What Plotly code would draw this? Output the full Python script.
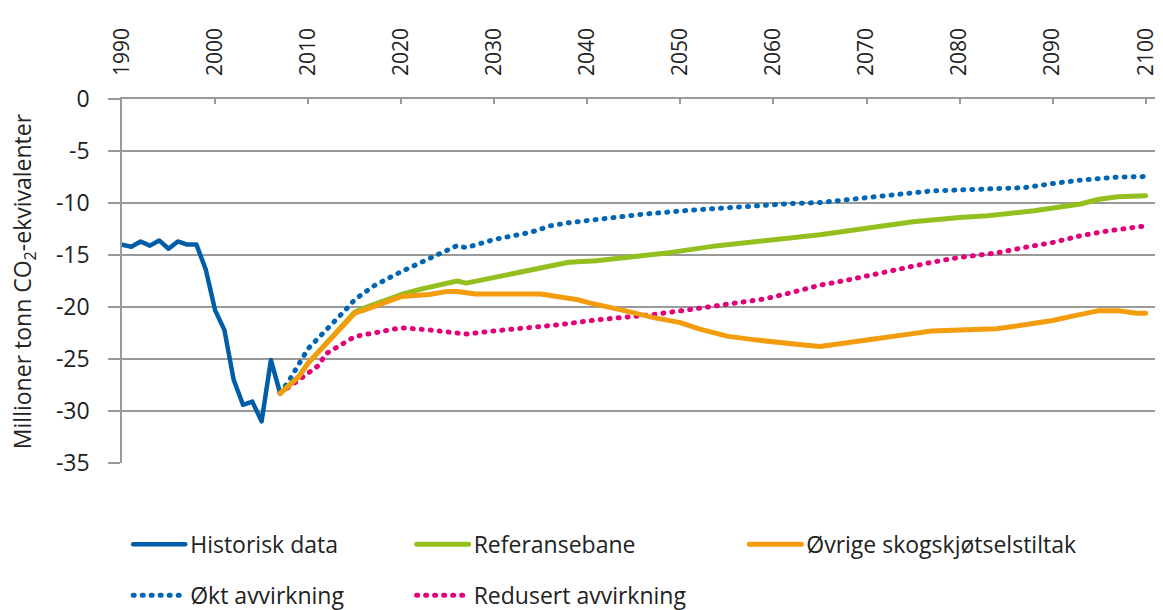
import plotly.graph_objects as go

# ---- data ----
hist_years = list(range(1990, 2008))
hist_vals = [-14.0, -14.2, -13.7, -14.1, -13.6, -14.4, -13.7, -14.0, -14.0, -16.4,
             -20.3, -22.2, -27.0, -29.4, -29.1, -31.0, -25.1, -28.3]

okt_years = [2007, 2008, 2010, 2012, 2014, 2015, 2017, 2020, 2022, 2025, 2026, 2027,
             2030, 2034, 2036, 2038, 2041, 2046, 2051, 2056, 2062, 2065, 2067, 2072,
             2077, 2083, 2087, 2090, 2093, 2097, 2100]
okt_vals = [-28.3, -27.0, -24.0, -22.2, -20.3, -19.3, -18.0, -16.6, -15.8, -14.5, -14.1, -14.3,
            -13.5, -12.8, -12.2, -11.9, -11.55, -11.07, -10.7, -10.37, -10.05, -9.96, -9.8, -9.3,
            -8.84, -8.68, -8.52, -8.13, -7.8, -7.5, -7.46]

ref_years = [2007, 2009, 2010, 2011, 2013, 2015, 2016, 2018, 2020, 2022, 2024, 2026, 2027,
             2030, 2034, 2036, 2038, 2041, 2045, 2049, 2054, 2060, 2065, 2070, 2075, 2080,
             2083, 2088, 2093, 2095, 2097, 2100]
ref_vals = [-28.3, -26.7, -25.4, -24.45, -22.5, -20.5, -20.1, -19.4, -18.8, -18.3, -17.9, -17.5, -17.7,
            -17.15, -16.4, -16.0, -15.7, -15.55, -15.13, -14.75, -14.1, -13.54, -13.06, -12.42, -11.8, -11.4,
            -11.23, -10.75, -10.1, -9.64, -9.4, -9.3]

ovr_years = [2007, 2009, 2010, 2011, 2013, 2015, 2016, 2018, 2020, 2023, 2025, 2026, 2028,
             2035, 2037, 2039, 2040, 2042, 2044, 2047, 2050, 2052, 2055, 2058, 2061, 2063,
             2065, 2068, 2071, 2074, 2077, 2080, 2084, 2087, 2090, 2092, 2095, 2097, 2099, 2100]
ovr_vals = [-28.3, -26.7, -25.4, -24.45, -22.5, -20.6, -20.3, -19.6, -19.0, -18.8, -18.5, -18.5, -18.75,
            -18.75, -19.0, -19.3, -19.55, -20.0, -20.35, -21.0, -21.5, -22.1, -22.8, -23.16, -23.38, -23.64,
            -23.8, -23.47, -23.06, -22.68, -22.3, -22.2, -22.1, -21.7, -21.3, -20.9, -20.35, -20.35, -20.6, -20.6]

red_years = [2007, 2009, 2011, 2012, 2015, 2017, 2020, 2023, 2025, 2027, 2030, 2034, 2037,
             2041, 2044, 2047, 2051, 2055, 2059, 2062, 2065, 2068, 2071, 2074, 2077, 2080,
             2084, 2087, 2090, 2093, 2096, 2100]
red_vals = [-28.3, -27.0, -25.7, -24.45, -22.85, -22.5, -22.0, -22.2, -22.4, -22.6, -22.3, -22.0, -21.7,
            -21.24, -21.0, -20.73, -20.25, -19.7, -19.23, -18.6, -17.9, -17.4, -16.8, -16.25, -15.7, -15.23,
            -14.8, -14.27, -13.8, -13.15, -12.67, -12.2]

x_ticks = list(range(1990, 2101, 10))
y_ticks = [0, -5, -10, -15, -20, -25, -30, -35]
y_ticktext = ["0", "-5", "-10", "-15", "-20", "-25", "-30", "-35"]

FONT = "Open Sans"
TXT = "#222222"
GRID = "#9a9a9a"

fig = go.Figure()


def add(x, y, name, color, dash, legend, rank, width):
    fig.add_trace(go.Scatter(
        x=x, y=y, mode="lines", name=name,
        line=dict(color=color, width=width, dash=dash),
        legend=legend, legendgroup=name, legendrank=rank,
        hoverinfo="x+y+name",
    ))


add(hist_years, hist_vals, "Historisk data", "#005ea8", "solid", "legend", 1, 4.5)
add(okt_years, okt_vals, "Økt avvirkning", "#0066b3", "1px,8px", "legend", 2, 5)
add(red_years, red_vals, "Redusert avvirkning", "#e2007a", "1px,8px", "legend2", 2, 5)
add(ref_years, ref_vals, "Referansebane", "#93c01f", "solid", "legend2", 1, 5)
add(ovr_years, ovr_vals, "Øvrige skogskjøtselstiltak", "#f39c0d", "solid", "legend3", 1, 5)

leg_common = dict(
    orientation="v", xanchor="left", yanchor="top", y=-0.1645,
    itemwidth=52, tracegroupgap=18, bgcolor="rgba(0,0,0,0)",
    font=dict(family=FONT, size=23, color=TXT),
)

fig.update_layout(
    width=1163, height=610,
    margin=dict(l=122, r=8, t=99, b=147, autoexpand=False),
    paper_bgcolor="white", plot_bgcolor="white",
    font=dict(family=FONT, size=22, color=TXT),
    showlegend=True,
    legend=dict(x=0.006, **leg_common),
    legend2=dict(x=0.2804, **leg_common),
    legend3=dict(x=0.6024, **leg_common),
    xaxis=dict(
        range=[1990, 2101], side="top", tickvals=x_ticks, tickangle=-90,
        ticks="inside", ticklen=5, tickcolor=GRID, tickwidth=1.5,
        showline=True, linecolor=GRID, linewidth=1.5,
        showgrid=False, zeroline=False, automargin=False,
        tickfont=dict(family=FONT, size=21, color=TXT),
        ticklabelstandoff=17,
    ),
    yaxis=dict(
        range=[-35, 0], tickvals=y_ticks, ticktext=y_ticktext,
        ticks="outside", ticklen=12, tickcolor=GRID, tickwidth=1.5,
        showline=True, linecolor=GRID, linewidth=1.5,
        showgrid=True, gridcolor=GRID, gridwidth=1.5,
        zeroline=False, automargin=False,
        tickfont=dict(family=FONT, size=23, color=TXT),
        ticklabelstandoff=14,
    ),
    annotations=[dict(
        text="Millioner tonn CO<sub>2</sub>-ekvivalenter",
        xref="paper", yref="paper", x=-0.0957, y=0.5,
        xanchor="center", yanchor="middle", textangle=-90, showarrow=False,
        font=dict(family=FONT, size=23, color=TXT),
    )],
)

post = """
document.body.style.margin = '0';
document.body.style.padding = '0';
var st = document.createElement('style');
st.innerHTML = 'html, body { margin: 0; padding: 0; } path.js-line { stroke-linecap: round !important; stroke-linejoin: round !important; }';
document.head.appendChild(st);
"""

fig.write_html("out.html", post_script=post, config={"displayModeBar": False})
